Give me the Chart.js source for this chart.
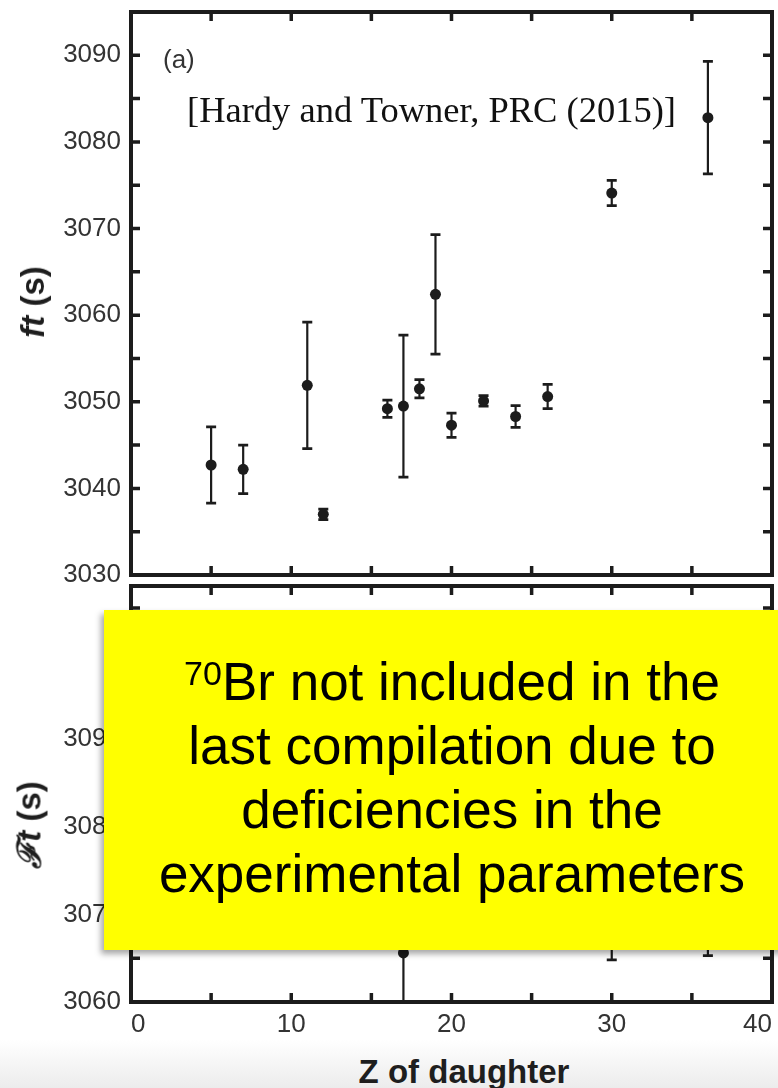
<!DOCTYPE html>
<html>
<head>
<meta charset="utf-8">
<script src="https://cdn.jsdelivr.net/npm/chart.js@4.4.1/dist/chart.umd.min.js"></script>
<style>
  html, body { margin: 0; padding: 0; background: #fff; }
  body { width: 778px; height: 1088px; position: relative; overflow: hidden; font-family: 'Liberation Sans', Arial, sans-serif; }
  .panel { position: absolute; left: 0; }
  .shade { position: absolute; left: 0; top: 1040px; width: 778px; height: 48px;
           background: linear-gradient(#ffffff, #ececec); }
  .label { position: absolute; white-space: nowrap; }
  .ytitle { position: absolute; white-space: nowrap; font-weight: bold; font-size: 33px; color: #1e1e1e;
            transform: translate(-50%, -50%) rotate(-90deg); }
  .note { position: absolute; left: 104px; top: 610px; width: 696px; height: 340px; background: #ffff00;
          box-shadow: -3px 4px 6px rgba(0,0,0,0.35); }
  .note-text { position: absolute; left: 0; top: 40px; width: 100%; text-align: center;
               font-size: 53px; line-height: 64px; color: #000; }
</style>
</head>
<body>
<div class="shade"></div>
<div class="panel" style="top:0"><canvas id="topChart" width="778" height="592"></canvas></div>
<div class="panel" style="top:580px"><canvas id="bottomChart" width="778" height="468"></canvas></div>

<div class="label" style="left:163px; top:46px; font-size:26px; line-height:26px; color:#333;">(a)</div>
<div class="label" style="left:187px; top:92px; font-family:'Liberation Serif','Times New Roman',serif; font-size:36.5px; line-height:36px; color:#111;">[Hardy and Towner, PRC (2015)]</div>
<div class="ytitle" style="left:33px; top:302px;"><i>ft</i> (s)</div>
<div class="ytitle" style="left:28px; top:825px;"><i style="font-family:'DejaVu Serif',serif;">ℱ</i><i>t</i> (s)</div>
<div class="label" style="left:464px; top:1055px; transform:translateX(-50%); font-weight:bold; font-size:33px; line-height:33px; color:#1e1e1e;">Z of daughter</div>

<div class="note">
  <div class="note-text"><span style="font-size:34px; line-height:1; vertical-align:15px;">70</span>Br not included in the<br>last compilation due to<br>deficiencies in the<br>experimental parameters</div>
</div>

<script>
// Z of the daughter nucleus
const zDaughter = [5, 7, 11, 12, 16, 17, 18, 19, 20, 22, 24, 26, 30, 36];

// panel (a): ft values and uncertainties
const ftValues = [3042.7, 3042.2, 3051.9, 3037.0, 3049.2, 3049.5, 3051.5, 3062.4, 3047.3, 3050.1, 3048.3, 3050.6, 3074.1, 3082.8];
const ftErrors = [4.4, 2.8, 7.3, 0.6, 1.0, 8.2, 1.05, 6.9, 1.4, 0.6, 1.25, 1.4, 1.45, 6.5];

// lower panel: corrected Ft values (mostly hidden behind the note)
const FtValues = [3078.0, 3071.4, 3077.9, 3072.9, 3070.7, 3065.6, 3071.6, 3076.4, 3072.4, 3074.1, 3071.2, 3069.8, 3071.5, 3076.0];
const FtErrors = [4.5, 3.2, 7.3, 1.0, 1.8, 8.4, 2.0, 7.2, 2.3, 2.0, 2.1, 2.6, 6.7, 10.7];

// tick positions and which of them carry a label
const xTicks = [0, 5, 10, 15, 20, 25, 30, 35, 40];
const xLabels = [0, 10, 20, 30, 40];
const ftTicks = [3030, 3035, 3040, 3045, 3050, 3055, 3060, 3065, 3070, 3075, 3080, 3085, 3090, 3095];
const ftLabels = [3030, 3040, 3050, 3060, 3070, 3080, 3090];
const FtTicks = [3060, 3065, 3070, 3075, 3080, 3085, 3090, 3095, 3100, 3105];
const FtLabels = [3060, 3070, 3080, 3090];

const ink = '#1c1c1c';
const tickFont = { family: "'Liberation Sans', Arial, sans-serif", size: 26 };

const errorBars = {
  id: 'errorBars',
  beforeDatasetsDraw(chart) {
    const { ctx, chartArea: a, scales: { x, y } } = chart;
    const ds = chart.data.datasets[0];
    ctx.save();
    ctx.beginPath();
    ctx.rect(a.left, a.top, a.right - a.left, a.bottom - a.top);
    ctx.clip();
    ctx.strokeStyle = ink;
    ds.data.forEach((p, i) => {
      const px = x.getPixelForValue(p.x);
      const hi = y.getPixelForValue(p.y + ds.errors[i]);
      const lo = y.getPixelForValue(p.y - ds.errors[i]);
      ctx.lineWidth = 2.2;
      ctx.beginPath();
      ctx.moveTo(px, hi); ctx.lineTo(px, lo);
      ctx.stroke();
      ctx.lineWidth = 2.8;
      ctx.beginPath();
      ctx.moveTo(px - 5, hi); ctx.lineTo(px + 5, hi);
      ctx.moveTo(px - 5, lo); ctx.lineTo(px + 5, lo);
      ctx.stroke();
    });
    ctx.restore();
  }
};

const frame = {
  id: 'frame',
  afterDraw(chart) {
    const { ctx, chartArea: a, scales: { x, y } } = chart;
    const len = 9;
    ctx.save();
    ctx.strokeStyle = ink;
    ctx.lineWidth = 3.5;
    ctx.beginPath();
    x.ticks.forEach(t => {
      const px = x.getPixelForValue(t.value);
      if (px <= a.left + 2 || px >= a.right - 2) return;
      ctx.moveTo(px, a.bottom); ctx.lineTo(px, a.bottom - len);
      ctx.moveTo(px, a.top); ctx.lineTo(px, a.top + len);
    });
    y.ticks.forEach(t => {
      const py = y.getPixelForValue(t.value);
      if (py <= a.top + 2 || py >= a.bottom - 2) return;
      ctx.moveTo(a.left, py); ctx.lineTo(a.left + len, py);
      ctx.moveTo(a.right, py); ctx.lineTo(a.right - len, py);
    });
    ctx.stroke();
    ctx.lineWidth = 4;
    ctx.strokeRect(a.left, a.top, a.right - a.left, a.bottom - a.top);
    ctx.restore();
  }
};

// keep the plot area exactly where the layout padding puts it
function noOverflow(s) {
  s.paddingTop = 0; s.paddingBottom = 0; s.paddingLeft = 0; s.paddingRight = 0;
}

function makePanel(canvas, values, errors, yMin, yMax, yTicks, yLabels, showX, padding) {
  return new Chart(canvas, {
    type: 'scatter',
    data: {
      datasets: [{
        data: zDaughter.map((z, i) => ({ x: z, y: values[i] })),
        errors: errors,
        pointRadius: 5.5,
        pointHoverRadius: 5.5,
        pointBackgroundColor: ink,
        pointBorderColor: ink,
        pointBorderWidth: 0,
        showLine: false
      }]
    },
    options: {
      responsive: false,
      animation: false,
      devicePixelRatio: 1,
      layout: { padding: padding },
      plugins: { legend: { display: false }, tooltip: { enabled: false } },
      scales: {
        x: {
          type: 'linear', min: 0, max: 40,
          afterBuildTicks: s => { s.ticks = xTicks.map(v => ({ value: v })); },
          afterFit: s => { s.height = showX ? 46 : 0; noOverflow(s); },
          grid: { display: false, drawTicks: false },
          border: { display: false },
          ticks: {
            display: showX, font: tickFont, color: '#333', padding: 7, maxRotation: 0, autoSkip: false,
            align: 'inner',
            callback: v => (xLabels.includes(v) ? v : '')
          }
        },
        y: {
          type: 'linear', min: yMin, max: yMax,
          afterBuildTicks: s => { s.ticks = yTicks.map(v => ({ value: v })); },
          afterFit: s => { s.width = 131; noOverflow(s); },
          grid: { display: false, drawTicks: false },
          border: { display: false },
          ticks: {
            font: tickFont, color: '#333', padding: 10, autoSkip: false,
            callback: v => (yLabels.includes(v) ? v : '')
          }
        }
      }
    },
    plugins: [errorBars, frame]
  });
}

makePanel(document.getElementById('topChart'), ftValues, ftErrors, 3030, 3095, ftTicks, ftLabels, false,
  { top: 12, right: 6, bottom: 17, left: 0 });
makePanel(document.getElementById('bottomChart'), FtValues, FtErrors, 3060, 3107.5, FtTicks, FtLabels, true,
  { top: 6, right: 6, bottom: 0, left: 0 });
</script>
</body>
</html>
